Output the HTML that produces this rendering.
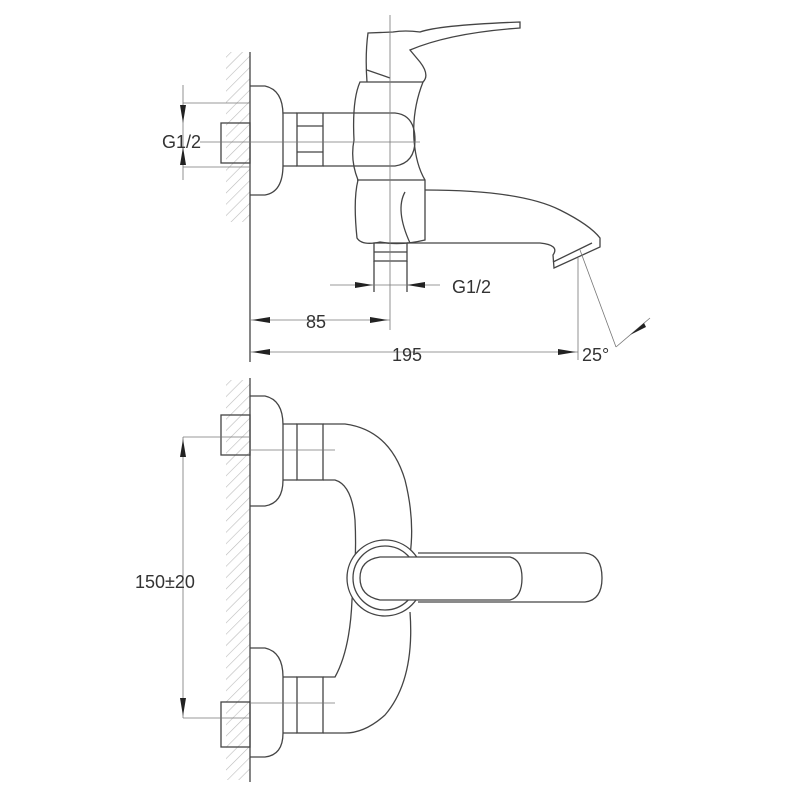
<!DOCTYPE html>
<html><head><meta charset="utf-8"><style>
html,body{margin:0;padding:0;background:#fff}
svg{display:block}
text{font-family:"Liberation Sans",sans-serif;font-size:18px;fill:#333}
</style></head><body>
<svg width="800" height="800" viewBox="0 0 800 800" xmlns="http://www.w3.org/2000/svg">
<defs>
<pattern id="h" width="8" height="8" patternUnits="userSpaceOnUse" patternTransform="rotate(45)">
<line x1="0" y1="0" x2="0" y2="8" stroke="#bbb" stroke-width="1.2"/>
</pattern>
</defs>
<g fill="none" stroke="#444" stroke-width="1.3">
<rect x="226" y="52" width="24" height="170" fill="url(#h)" stroke="none"/>
<line x1="250" y1="52" x2="250" y2="362"/>
<path d="M250 86 H265 Q283 90 283 115 V165 Q283 192 265 195 H250"/>
<path d="M283 113 H297 M283 166 H297"/>
<rect x="221" y="123" width="29" height="40"/>
<rect x="297" y="113" width="26" height="53"/>
<line x1="297" y1="126" x2="323" y2="126"/><line x1="297" y1="152" x2="323" y2="152"/>
<path d="M323 113 H395 Q415 115 415 140 Q415 163 395 166 H323"/>
<path d="M360 82 H423 Q412 110 414 140 Q416 165 425 180 V240 Q400 246 380 242 Q362 246 357 238 Q353 200 358 180 Q350 160 354 140 Q352 100 360 82 Z"/>
<path d="M357 180 H425"/>
<path d="M367 82 Q365 55 368 33 L393 32 Q405 30 420 32 Q440 25 520 22 V28 Q450 33 410 50 L420 62 Q430 75 423 82"/>
<path d="M367 70 L390 78"/>
<path d="M425 190 Q520 190 560 210 Q590 225 600 238 V247 L554 268 L553 255 Q560 245 540 243 L407 243"/>
<path d="M553 262 L592 243"/>
<path d="M405 192 Q395 210 410 243"/>
<rect x="374" y="243" width="33" height="18"/>
<line x1="374" y1="252" x2="407" y2="252"/>
<path d="M374 261 V292 M407 261 V292"/>
</g>
<g stroke="#777" stroke-width="0.8" fill="none">
<line x1="390" y1="15" x2="390" y2="330"/>
<line x1="200" y1="142" x2="420" y2="142"/>
<line x1="183" y1="85" x2="183" y2="180"/>
<line x1="183" y1="103" x2="250" y2="103"/><line x1="183" y1="167" x2="250" y2="167"/>
<line x1="330" y1="285" x2="440" y2="285"/>
<line x1="250" y1="320" x2="390" y2="320"/>
<line x1="250" y1="352" x2="578" y2="352"/>
<line x1="578" y1="258" x2="578" y2="360"/>
<line x1="580" y1="250" x2="616" y2="347"/>
<line x1="616" y1="347" x2="650" y2="318"/>
</g>
<g fill="#222">
<path d="M183 123 l-3 -18 h6 z"/><path d="M183 147 l-3 18 h6 z"/>
<path d="M373 285 l-18 -3 v6 z"/><path d="M407 285 l18 -3 v6 z"/>
<path d="M252 320 l18 -3 v6 z"/><path d="M388 320 l-18 -3 v6 z"/>
<path d="M252 352 l18 -3 v6 z"/><path d="M576 352 l-18 -3 v6 z"/>
<path d="M630 335 l14 -12 l2 4 z"/>
</g>
<text x="162" y="148">G1/2</text>
<text x="452" y="293">G1/2</text>
<text x="306" y="328">85</text>
<text x="392" y="361">195</text>
<text x="582" y="361">25°</text>
<!-- BOTTOM VIEW -->
<g fill="none" stroke="#444" stroke-width="1.3">
<rect x="226" y="380" width="24" height="400" fill="url(#h)" stroke="none"/>
<line x1="250" y1="378" x2="250" y2="782"/>
<path d="M250 396 H265 Q283 400 283 425 V480 Q283 503 265 506 H250"/>
<path d="M250 648 H265 Q283 652 283 677 V733 Q283 755 265 757 H250"/>
<rect x="221" y="415" width="29" height="40"/>
<rect x="221" y="702" width="29" height="45"/>
<path d="M283 424 H297 M283 480 H297 M283 677 H297 M283 733 H297"/>
<rect x="297" y="424" width="26" height="56"/>
<rect x="297" y="677" width="26" height="56"/>
<path d="M323 424 H345 Q390 430 405 480 Q415 520 410 555"/>
<path d="M410 612 Q415 680 385 715 Q365 733 345 733 H323"/>
<path d="M323 480 H335 Q352 485 355 520 Q357 560 352 600 Q350 650 335 677 H323"/>
<circle cx="385" cy="578" r="38" fill="#fff"/>
<circle cx="385" cy="578" r="32"/>
<path d="M418 553 H585 Q602 555 602 578 Q602 600 585 602 H418"/>
<path d="M380 557 H510 Q522 560 522 578 Q522 597 510 600 H380 Q360 596 360 578 Q360 560 380 557 Z" fill="#fff"/>
</g>
<g stroke="#777" stroke-width="0.8" fill="none">
<line x1="183" y1="437" x2="183" y2="718"/>
<line x1="183" y1="437" x2="250" y2="437"/><line x1="183" y1="718" x2="250" y2="718"/>
<line x1="250" y1="450" x2="335" y2="450"/><line x1="250" y1="703" x2="335" y2="703"/>
</g>
<g fill="#222">
<path d="M183 439 l-3 18 h6 z"/><path d="M183 716 l-3 -18 h6 z"/>
</g>
<text x="135" y="588">150±20</text>
</svg>
</body></html>
